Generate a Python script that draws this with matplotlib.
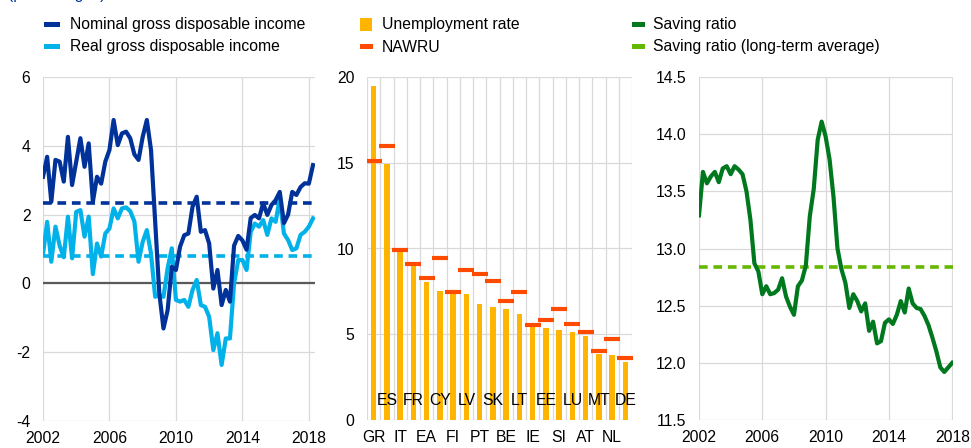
import numpy as np
import matplotlib
matplotlib.use("Agg")
import matplotlib.pyplot as plt
from matplotlib.patches import Rectangle
from matplotlib.transforms import blended_transform_factory

plt.rcParams['font.family'] = ['Liberation Sans', 'DejaVu Sans']
plt.rcParams['axes.unicode_minus'] = False

# ---------------- data ----------------
income_start = 2002.0
nominal_gdi = [3.10, 3.68, 2.37, 3.59, 3.54, 2.96, 4.26, 2.86, 3.54, 4.22, 3.39, 4.07,
               2.37, 3.10, 2.90, 3.54, 3.88, 4.75, 4.02, 4.36, 4.41, 4.22, 3.75, 3.59,
               4.26, 4.75, 3.88, 1.80, -0.29, -1.31, -0.78, 0.48, 0.39, 1.07, 1.40, 1.45,
               2.23, 2.52, 1.50, 1.55, 1.16, -0.15, 0.39, -0.63, -0.19, -0.53, 1.10, 1.38,
               1.25, 0.98, 1.90, 1.99, 1.89, 2.33, 1.99, 2.28, 2.42, 2.66, 1.75, 2.00,
               2.66, 2.57, 2.80, 2.91, 2.90, 3.44]
real_gdi = [0.85, 1.79, 0.63, 1.65, 1.10, 0.76, 1.94, 0.73, 2.08, 2.13, 1.36, 1.94,
            0.27, 1.16, 0.78, 1.45, 1.60, 2.18, 1.89, 2.18, 2.21, 2.10, 1.80, 0.63,
            1.21, 1.55, 0.87, -0.39, -0.34, -0.39, 0.44, 1.02, -0.48, -0.53, -0.48, -0.68,
            -0.19, 0.10, -0.63, -0.68, -0.97, -1.94, -1.45, -2.37, -1.60, -1.60, 0.00, 0.68,
            0.68, 0.39, 1.50, 1.74, 1.65, 1.84, 1.41, 1.89, 1.79, 2.47, 1.45, 1.26,
            0.97, 1.02, 1.41, 1.50, 1.65, 1.89]
nominal_avg = 2.33
real_avg = 0.81

countries = ['GR', 'ES', 'IT', 'FR', 'EA', 'CY', 'FI', 'LV', 'PT', 'SK',
             'BE', 'LT', 'IE', 'EE', 'SI', 'LU', 'AT', 'MT', 'NL', 'DE']
unemployment = [19.45, 14.95, 9.8, 9.2, 8.07, 7.5, 7.4, 7.37, 6.76, 6.59,
                6.45, 6.2, 5.42, 5.36, 5.23, 5.13, 4.9, 3.85, 3.77, 3.36]
nawru = [15.1, 16.0, 9.9, 9.12, 8.3, 9.47, 7.48, 8.77, 8.53, 8.12,
         6.96, 7.48, 5.56, 5.85, 6.49, 5.62, 5.15, 4.04, 4.74, 3.63]

saving_start = 2002.0
saving_ratio = [13.29, 13.67, 13.57, 13.63, 13.67, 13.58, 13.70, 13.72, 13.65, 13.72,
                13.69, 13.65, 13.50, 13.25, 12.87, 12.80, 12.60, 12.67, 12.60, 12.61,
                12.64, 12.74, 12.58, 12.49, 12.42, 12.67, 12.72, 12.85, 13.28, 13.52,
                13.95, 14.11, 13.98, 13.78, 13.45, 13.00, 12.82, 12.70, 12.48, 12.60,
                12.54, 12.45, 12.52, 12.28, 12.36, 12.17, 12.19, 12.35, 12.38, 12.34,
                12.42, 12.54, 12.44, 12.65, 12.52, 12.48, 12.47, 12.41, 12.33, 12.22,
                12.10, 11.96, 11.92, 11.96, 12.00]
saving_avg = 12.84

year_ticks = [2002, 2006, 2010, 2014, 2018]

# ---------------- style ----------------
DARK_BLUE = '#003299'
LIGHT_BLUE = '#00B1EA'
YELLOW = '#FFB400'
ORANGE = '#FF4B00'
GREEN = '#00781E'
LIGHT_GREEN = '#65B800'
GRID = '#D9D9D9'
ZERO = '#595959'
FS = 11.3

W, H = 971, 448
fig = plt.figure(figsize=(W / 100, H / 100), dpi=100)


def ax_rect(x0, y0, x1, y1):
    return [x0 / W, 1 - y1 / H, (x1 - x0) / W, (y1 - y0) / H]


def style(ax):
    for s in ax.spines.values():
        s.set_visible(False)
    ax.tick_params(length=0, labelsize=FS, colors='#000000', pad=9)
    ax.set_axisbelow(True)


# ---------------- left panel ----------------
ax1 = fig.add_axes(ax_rect(43, 77, 315, 421))
style(ax1)
t_inc = income_start + 0.25 * np.arange(len(nominal_gdi))
ax1.axhline(0, color=ZERO, lw=1.6, zorder=1)
ax1.axhline(nominal_avg, color=DARK_BLUE, lw=2.6, dashes=(2.4, 1.6), zorder=2)
ax1.axhline(real_avg, color=LIGHT_BLUE, lw=2.6, dashes=(2.4, 1.6), zorder=2)
ax1.plot(t_inc, real_gdi, color=LIGHT_BLUE, lw=3.0, zorder=3, solid_joinstyle='round')
ax1.plot(t_inc, nominal_gdi, color=DARK_BLUE, lw=3.0, zorder=4, solid_joinstyle='round')
ax1.set_xlim(2002, 2018.37)
ax1.set_ylim(-4, 6)
ax1.set_yticks(np.arange(-4, 7, 2))
ax1.set_xticks(year_ticks)
ax1.grid(True, color=GRID, lw=0.9)

# ---------------- middle panel ----------------
ax2 = fig.add_axes(ax_rect(367, 77, 632, 420))
style(ax2)
xpos = np.arange(len(countries))
for b in np.arange(len(countries) + 1) - 0.5:
    ax2.axvline(b, color=GRID, lw=0.9, zorder=0)
ax2.bar(xpos, unemployment, width=0.42, color=YELLOW, zorder=2)
ax2.plot(xpos, nawru, ls='none', marker='_', markersize=11.8, markeredgewidth=3.0,
         color=ORANGE, zorder=3)
ax2.set_xlim(-0.5, len(countries) - 0.5)
ax2.set_ylim(0, 20)
ax2.set_yticks(np.arange(0, 21, 5))
ax2.yaxis.grid(True, color=GRID, lw=0.9)
ax2.set_xticks(xpos[0::2])
ax2.set_xticklabels(countries[0::2])
# staggered labels drawn inside the plot area, above the bars
trans = blended_transform_factory(ax2.transData, ax2.transAxes)
for xi, lab in zip(xpos[1::2], countries[1::2]):
    ax2.text(xi, 20 / 343, lab, transform=trans, ha='center', va='center',
             fontsize=FS, zorder=6)

# ---------------- right panel ----------------
ax3 = fig.add_axes(ax_rect(699, 77, 953, 420))
style(ax3)
t_sav = saving_start + 0.25 * np.arange(len(saving_ratio))
ax3.axhline(saving_avg, color=LIGHT_GREEN, lw=2.6, dashes=(2.4, 1.6), zorder=2)
ax3.plot(t_sav, saving_ratio, color=GREEN, lw=3.0, zorder=3, solid_joinstyle='round')
ax3.set_xlim(2002, 2018.05)
ax3.set_ylim(11.5, 14.5)
ax3.set_yticks(np.arange(11.5, 14.51, 0.5))
ax3.set_yticklabels([f'{v:.1f}' for v in np.arange(11.5, 14.51, 0.5)])
ax3.set_xticks(year_ticks)
ax3.grid(True, color=GRID, lw=0.9)

for ax in (ax1, ax2, ax3):
    ax.tick_params(axis='x', which='major', pad=7)

# ---------------- legends (figure coords in px) ----------------
def legend_patch(x, y, w, h, color):
    fig.add_artist(Rectangle((x / W, 1 - (y + h / 2) / H), w / W, h / H,
                             transform=fig.transFigure, color=color, lw=0))


def legend_text(x, y, s):
    fig.text(x / W, 1 - y / H, s, fontsize=FS, va='center', ha='left')


legend_patch(44, 25, 16, 5, DARK_BLUE)
legend_text(70, 25, 'Nominal gross disposable income')
legend_patch(44, 47, 16, 5, LIGHT_BLUE)
legend_text(70, 47, 'Real gross disposable income')

legend_patch(360, 25, 12, 13, YELLOW)
legend_text(382, 25, 'Unemployment rate')
legend_patch(360, 47, 13, 5, ORANGE)
legend_text(382, 47, 'NAWRU')

legend_patch(632, 25, 13, 5, GREEN)
legend_text(653, 25, 'Saving ratio')
legend_patch(632, 47, 13, 5, LIGHT_GREEN)
legend_text(653, 47, 'Saving ratio (long-term average)')

# subtitle largely clipped at the very top, as in the reference
fig.text(8 / W, 1 + 1.5 / H, '(percentages)', fontsize=FS, color=DARK_BLUE,
         va='baseline', ha='left')

fig.savefig('out.png', dpi=100)
